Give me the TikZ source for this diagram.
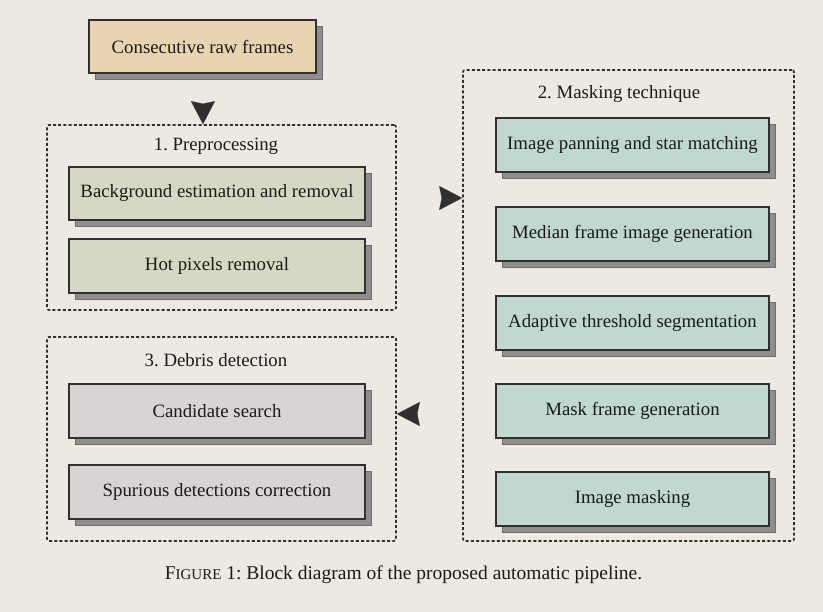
\documentclass[tikz,border=0pt]{standalone}
\usepackage{fontspec}
\setmainfont{Liberation Serif}
\frenchspacing
\usetikzlibrary{shadows,arrows.meta}
\definecolor{bgc}{HTML}{EDE9E2}
\definecolor{edge}{HTML}{303030}
\definecolor{tanc}{HTML}{E9D4B1}
\definecolor{greenc}{HTML}{D5D9C3}
\definecolor{tealc}{HTML}{C0D7D2}
\definecolor{mauvec}{HTML}{D9D3D3}
\definecolor{shadc}{HTML}{8E8E8E}
\definecolor{shadedge}{HTML}{6E6E6E}
\definecolor{textc}{HTML}{1A1A1A}
\tikzset{
  stepbox/.style={draw=edge, line width=1.6pt, minimum height=53pt, inner sep=0pt,
    font=\fontsize{18.8}{21}\selectfont, text=textc,
    drop shadow={shadow xshift=6pt, shadow yshift=-6pt, opacity=1, fill=shadc, draw=shadedge, line width=0.8pt}},
  leftbox/.style={stepbox, minimum width=296pt},
  tealbox/.style={stepbox, minimum width=273pt, minimum height=54pt, fill=tealc},
  groupbox/.style={draw=edge, line width=1.6pt, dash pattern=on 3pt off 2.2pt, rounded corners=2pt, inner sep=0pt},
  grouptitle/.style={font=\fontsize{18.8}{21}\selectfont, text=textc, inner sep=0pt},
  tipstyle/.style={draw=edge, fill=edge, line width=0.1pt, -{Stealth[length=23pt, width=24pt, inset=2.5pt]}}
}
\begin{document}
\begin{tikzpicture}[x=1pt,y=-1pt]
\fill[bgc] (0,0) rectangle (823,612);
\useasboundingbox (0,0) rectangle (823,612);

\node[stepbox, minimum width=227pt, fill=tanc] (raw) at (202.5,46.5) {Consecutive raw frames};

\node[groupbox, minimum width=349pt, minimum height=185pt] (pre) at (221.5,217.5) {};
\node[grouptitle] (pret) at (216,146) {1. Preprocessing};
\node[leftbox, fill=greenc] (bg) at (217,193.5) {Background estimation and removal};
\node[leftbox, fill=greenc, minimum height=54pt] (hot) at (217,266) {Hot pixels removal};

\node[groupbox, minimum width=331pt, minimum height=471pt] (mask) at (628.5,305.5) {};
\node[grouptitle] (maskt) at (619,94) {2. Masking technique};
\node[tealbox] (m1) at (632.5,145) {Image panning and star matching};
\node[tealbox] (m2) at (632.5,234) {Median frame image generation};
\node[tealbox] (m3) at (632.5,323) {Adaptive threshold segmentation};
\node[tealbox] (m4) at (632.5,411) {Mask frame generation};
\node[tealbox] (m5) at (632.5,499) {Image masking};

\node[groupbox, minimum width=349pt, minimum height=204pt] (deb) at (221.5,439) {};
\node[grouptitle] (debt) at (216,360) {3. Debris detection};
\node[leftbox, fill=mauvec, minimum height=54pt] (cand) at (217,411) {Candidate search};
\node[leftbox, fill=mauvec, minimum height=54pt] (spur) at (217,492) {Spurious detections correction};

\coordinate (a1) at (203,104.5);
\coordinate (a2) at (442.5,198);
\coordinate (a3) at (417.5,414);
\draw[tipstyle] (a1) -- (a1 |- pre.north);
\draw[tipstyle] (a2) -- (a2 -| mask.west);
\draw[tipstyle] (a3) -- (a3 -| deb.east);

\node[font=\fontsize{19.5}{22}\selectfont, text=textc, inner sep=0pt] (cap) at (403.5,575)
  {F{\fontsize{15}{17}\selectfont IGURE} 1: Block diagram of the proposed automatic pipeline.};
\end{tikzpicture}
\end{document}
